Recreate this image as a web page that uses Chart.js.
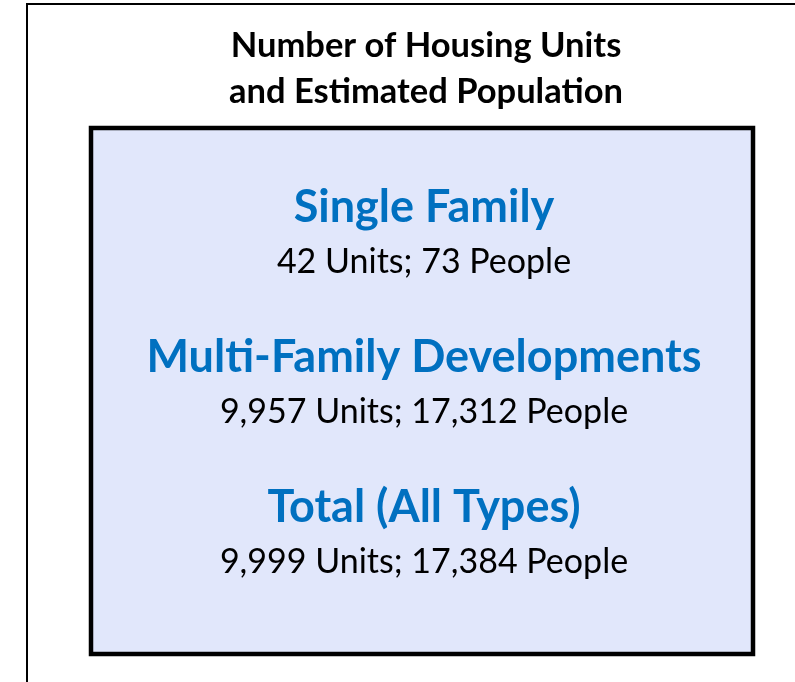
<!DOCTYPE html>
<html>
<head>
<meta charset="utf-8">
<script src="https://cdn.jsdelivr.net/npm/chart.js@4/dist/chart.umd.min.js"></script>
<style>
  html, body { margin: 0; padding: 0; background: #ffffff; }
  #wrap { position: relative; width: 795px; height: 682px; }
</style>
</head>
<body>
<div id="wrap"><canvas id="c" width="795" height="682"></canvas></div>
<script>
// ---- data ----
const titleLines = ["Number of Housing Units", "and Estimated Population"];
const categories = ["Single Family", "Multi-Family Developments", "Total (All Types)"];
const units = [42, 9957, 9999];
const people = [73, 17312, 17384];

const FONT = "Lato, 'Noto Sans', sans-serif";
const fmt = n => n.toLocaleString('en-US');

const panelPlugin = {
  id: 'panel',
  beforeDraw(chart) {
    const ctx = chart.ctx;
    ctx.save();
    ctx.fillStyle = '#ffffff';
    ctx.fillRect(0, 0, chart.width, chart.height);
    // outer frame
    ctx.strokeStyle = '#000000';
    ctx.lineWidth = 2;
    ctx.strokeRect(27, 4, 800, 700);
    // inner box
    ctx.fillStyle = '#E1E7FB';
    ctx.fillRect(91, 128, 662, 526);
    ctx.lineWidth = 4.5;
    ctx.strokeRect(91, 128, 662, 526);
    // title
    ctx.fillStyle = '#000000';
    ctx.textAlign = 'center';
    ctx.textBaseline = 'alphabetic';
    ctx.font = "bold 34.5px " + FONT;
    ctx.fillText(titleLines[0], 426, 57);
    ctx.fillText(titleLines[1], 426, 103);
    ctx.restore();
  },
  afterDatasetsDraw(chart) {
    const ctx = chart.ctx;
    const y = chart.scales.y;
    const cx = (chart.chartArea.left + chart.chartArea.right) / 2 + 2;
    ctx.save();
    ctx.textAlign = 'center';
    ctx.textBaseline = 'alphabetic';
    categories.forEach((cat, i) => {
      const c = y.getPixelForValue(i);
      ctx.fillStyle = '#0070C0';
      ctx.font = "bold 45px " + FONT;
      ctx.fillText(cat, cx, c - 22);
      ctx.fillStyle = '#000000';
      ctx.font = "34px " + FONT;
      ctx.fillText(fmt(units[i]) + " Units; " + fmt(people[i]) + " People", cx, c + 29);
    });
    ctx.restore();
  }
};

new Chart(document.getElementById('c'), {
  type: 'bar',
  data: {
    labels: categories,
    datasets: [{ label: 'Units', data: units, backgroundColor: 'rgba(0,0,0,0)', borderWidth: 0 }]
  },
  options: {
    responsive: false,
    animation: false,
    indexAxis: 'y',
    layout: { padding: { left: 91, right: 42, top: 169, bottom: 63 } },
    plugins: { legend: { display: false }, tooltip: { enabled: false }, title: { display: false } },
    scales: {
      x: { display: false, min: 0 },
      y: { display: false, type: 'category', offset: true }
    }
  },
  plugins: [panelPlugin]
});
</script>
</body>
</html>
